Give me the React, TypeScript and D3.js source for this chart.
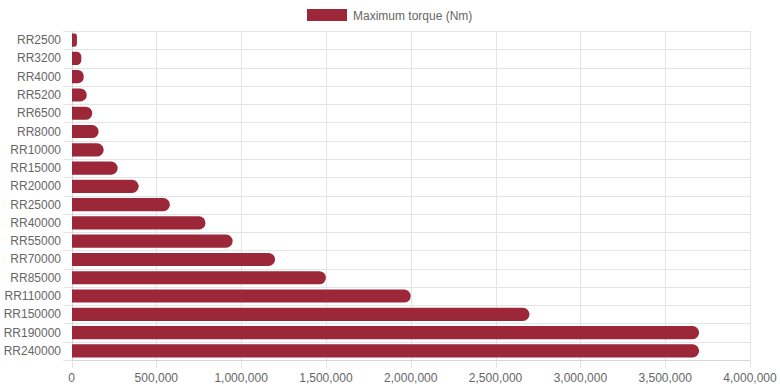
import * as d3 from "d3";

const models = [
  "RR2500", "RR3200", "RR4000", "RR5200", "RR6500", "RR8000", "RR10000",
  "RR15000", "RR20000", "RR25000", "RR40000", "RR55000", "RR70000",
  "RR85000", "RR110000", "RR150000", "RR190000", "RR240000",
];
const maxTorque = [
  32000, 58000, 72000, 90000, 122000, 160000, 190000, 272000, 396000,
  580000, 790000, 950000, 1200000, 1500000, 2000000, 2700000, 3700000, 3700000,
];
const xTicks = [0, 500000, 1000000, 1500000, 2000000, 2500000, 3000000, 3500000, 4000000];
const seriesLabel = "Maximum torque (Nm)";

const W = 780;
const H = 390;
const margin = { top: 31, right: 30, bottom: 30, left: 71.5 };
const barColor = "#9c2739";
const gridColor = "#e4e4e4";
const textColor = "#666";
const font = "Arial, 'Liberation Sans', Helvetica, sans-serif";

// right end rounded, left end square
const barPath = (x0: number, x1: number, y: number, h: number) => {
  const w = x1 - x0;
  const r = Math.min(h / 2, w / 2);
  return `M${x0},${y}H${x1 - r}A${r},${r} 0 0 1 ${x1},${y + r}V${y + h - r}A${r},${r} 0 0 1 ${x1 - r},${y + h}H${x0}Z`;
};

export default function App() {
  const innerRight = W - margin.right;
  const innerBottom = H - margin.bottom;

  const x = d3.scaleLinear().domain([0, 4000000]).range([margin.left, innerRight]);
  const y = d3.scaleBand().domain(models).range([margin.top, innerBottom]);
  const step = y.step();
  const barH = step * 0.72;
  const fmt = d3.format(",");

  const legendX = 307;

  return (
    <div style={{ position: "absolute", left: 0, top: 0 }}>
      <svg width={W} height={H} style={{ display: "block", fontFamily: font }}>
        {/* vertical grid + tick marks */}
        {xTicks.map((t) => (
          <line
            key={`vx-${t}`}
            x1={Math.round(x(t)) + 0.5}
            x2={Math.round(x(t)) + 0.5}
            y1={margin.top}
            y2={innerBottom + 8}
            stroke={gridColor}
          />
        ))}
        {/* horizontal grid between categories */}
        {d3.range(models.length + 1).map((i) => {
          const yy = Math.round(margin.top + i * step) + 0.5;
          return (
            <line
              key={`hy-${i}`}
              x1={margin.left - 8}
              x2={innerRight}
              y1={yy}
              y2={yy}
              stroke={gridColor}
            />
          );
        })}
        {/* axis lines */}
        <line
          x1={Math.round(x(0)) + 0.5}
          x2={Math.round(x(0)) + 0.5}
          y1={margin.top}
          y2={innerBottom}
          stroke="#d6d6d6"
        />
        <line
          x1={margin.left}
          x2={innerRight}
          y1={Math.round(innerBottom) + 0.5}
          y2={Math.round(innerBottom) + 0.5}
          stroke="#d6d6d6"
        />

        {/* bars */}
        {models.map((m, i) => {
          const yc = (y(m) || 0) + step / 2;
          return (
            <path
              key={m}
              d={barPath(x(0) + 0.5, x(maxTorque[i]), yc - barH / 2, barH)}
              fill={barColor}
            />
          );
        })}

        {/* y labels */}
        {models.map((m) => (
          <text
            key={`l-${m}`}
            x={61}
            y={(y(m) || 0) + step / 2}
            textAnchor="end"
            dominantBaseline="central"
            fontSize={12}
            fill={textColor}
          >
            {m}
          </text>
        ))}

        {/* x labels */}
        {xTicks.map((t) => (
          <text
            key={`xl-${t}`}
            x={x(t)}
            y={378}
            textAnchor="middle"
            dominantBaseline="central"
            fontSize={12}
            fill={textColor}
          >
            {fmt(t)}
          </text>
        ))}

        {/* legend */}
        <rect x={legendX} y={9} width={40} height={12} fill={barColor} />
        <text
          x={legendX + 46}
          y={15.5}
          dominantBaseline="central"
          fontSize={12}
          fill={textColor}
        >
          {seriesLabel}
        </text>
      </svg>
    </div>
  );
}
